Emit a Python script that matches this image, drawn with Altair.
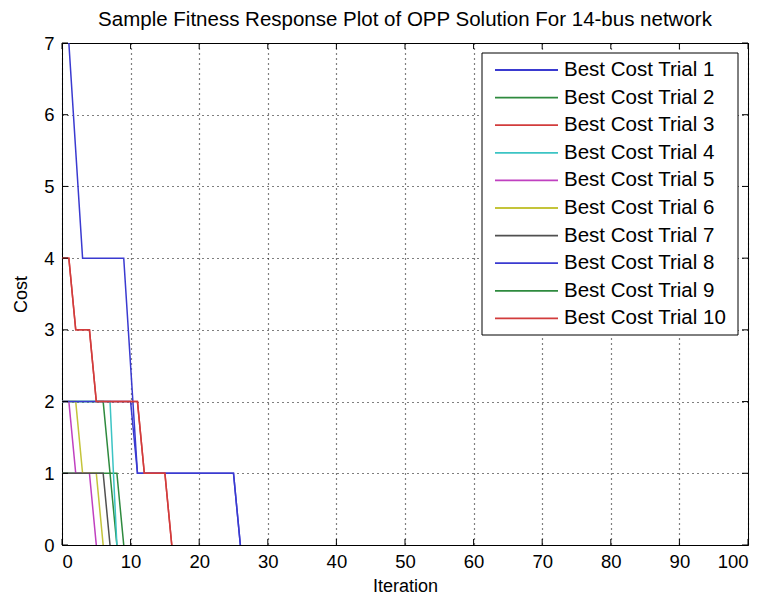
import altair as alt
import pandas as pd

# ---- data ----
trials = [f"Best Cost Trial {i}" for i in range(1, 11)]
colors = ["#3a3ad0", "#2e8a3e", "#d23c3c", "#3cc4c4", "#c040c0",
          "#c4c43a", "#505050", "#3a3ad0", "#2e8a3e", "#d23c3c"]

t1_iter = [1, 3, 9, 11, 25, 26]
t1_cost = [7, 4, 4, 1, 1, 0]
t2_iter = [0, 6, 7, 8, 9]
t2_cost = [2, 2, 1, 1, 0]
t3_iter = [0, 1, 2, 4, 5, 11, 12, 15, 16]
t3_cost = [4, 4, 3, 3, 2, 2, 1, 1, 0]
t4_iter = [0, 7, 8]
t4_cost = [2, 2, 0]
t5_iter = [0, 1, 2, 4, 5]
t5_cost = [2, 2, 1, 1, 0]
t6_iter = [0, 2, 3, 5, 6]
t6_cost = [2, 2, 1, 1, 0]
t7_iter = [0, 6, 7]
t7_cost = [1, 1, 0]
t8_iter = [0, 10, 11, 25, 26]
t8_cost = [2, 2, 1, 1, 0]
t9_iter = [0, 7, 8]
t9_cost = [1, 1, 0]
t10_iter = [0, 1, 2, 4, 5, 11, 12, 15, 16]
t10_cost = [4, 4, 3, 3, 2, 2, 1, 1, 0]

series = [(t1_iter, t1_cost), (t2_iter, t2_cost), (t3_iter, t3_cost),
          (t4_iter, t4_cost), (t5_iter, t5_cost), (t6_iter, t6_cost),
          (t7_iter, t7_cost), (t8_iter, t8_cost), (t9_iter, t9_cost),
          (t10_iter, t10_cost)]

x_ticks = [0, 10, 20, 30, 40, 50, 60, 70, 80, 90, 100]
y_ticks = [0, 1, 2, 3, 4, 5, 6, 7]

rows = []
for name, (xs, ys) in zip(trials, series):
    for x, y in zip(xs, ys):
        rows.append({"trial": name, "iter": x, "cost": y})
df = pd.DataFrame(rows)

W, H = 686, 502
XMAX, YMAX = 100, 7
FONT = "Liberation Sans"

xscale = alt.Scale(domain=[0, XMAX], nice=False, zero=False)
yscale = alt.Scale(domain=[0, YMAX], nice=False, zero=False)
cscale = alt.Scale(domain=trials, range=colors)

xaxis = alt.Axis(values=x_ticks, format="d", grid=True, gridDash=[1, 4], gridColor="black",
                 gridOpacity=1, gridWidth=1.2, domain=False, ticks=False,
                 labelFontSize=18.5, labelFont=FONT, labelColor="black",
                 labelPadding=7, title="Iteration", titleFontSize=18,
                 titleFont=FONT, titleFontWeight="normal", titleColor="black",
                 titlePadding=7)
yaxis = alt.Axis(values=y_ticks, format="d", grid=True, gridDash=[1, 4], gridColor="black",
                 gridOpacity=1, gridWidth=1.2, domain=False, ticks=False,
                 labelFontSize=18.5, labelFont=FONT, labelColor="black",
                 labelPadding=8, title="Cost", titleFontSize=18,
                 titleFont=FONT, titleFontWeight="normal", titleColor="black",
                 titlePadding=13)

base = alt.Chart(df).encode(
    x=alt.X("iter:Q", scale=xscale, axis=xaxis),
    y=alt.Y("cost:Q", scale=yscale, axis=yaxis),
    color=alt.Color("trial:N", scale=cscale, legend=None),
)

draw_order = [0, 1, 8, 3, 4, 5, 6, 7, 2, 9]
line_layers = [
    base.transform_filter(alt.datum.trial == trials[i]).mark_line(strokeWidth=1.5, clip=True)
    for i in draw_order
]

# inner ticks on all four sides (MATLAB style box)
tx = pd.DataFrame({"t": x_ticks})
ty = pd.DataFrame({"t": y_ticks})
tlen_y = 6 * YMAX / H
tlen_x = 6 * XMAX / W
tick_style = dict(color="black", strokeWidth=1)
ticks_bottom = alt.Chart(tx).transform_calculate(a="0", b=str(tlen_y)).mark_rule(**tick_style).encode(
    x=alt.X("t:Q", scale=xscale), y=alt.Y("a:Q", scale=yscale), y2="b:Q")
ticks_top = alt.Chart(tx).transform_calculate(a=str(YMAX), b=str(YMAX - tlen_y)).mark_rule(**tick_style).encode(
    x=alt.X("t:Q", scale=xscale), y=alt.Y("a:Q", scale=yscale), y2="b:Q")
ticks_left = alt.Chart(ty).transform_calculate(a="0", b=str(tlen_x)).mark_rule(**tick_style).encode(
    y=alt.Y("t:Q", scale=yscale), x=alt.X("a:Q", scale=xscale), x2="b:Q")
ticks_right = alt.Chart(ty).transform_calculate(a=str(XMAX), b=str(XMAX - tlen_x)).mark_rule(**tick_style).encode(
    y=alt.Y("t:Q", scale=yscale), x=alt.X("a:Q", scale=xscale), x2="b:Q")

# legend drawn inside the plot (top-right box)
leg = pd.DataFrame({"trial": trials, "idx": list(range(len(trials)))})
row0, rowstep = 27.0, 27.6
leg_box = alt.Chart(pd.DataFrame({"k": [0]})).mark_rect(
    fill="white", stroke="black", strokeWidth=1).encode(
    x=alt.value(420), x2=alt.value(676), y=alt.value(10), y2=alt.value(292))
leg_base = alt.Chart(leg).transform_calculate(
    ly=f"{YMAX} - ({row0} + datum.idx * {rowstep}) * {YMAX} / {H}")
leg_lines = leg_base.mark_rule(strokeWidth=1.8).encode(
    x=alt.value(433), x2=alt.value(496),
    y=alt.Y("ly:Q", scale=yscale),
    color=alt.Color("trial:N", scale=cscale, legend=None))
leg_text = leg_base.mark_text(align="left", baseline="middle", fontSize=20.5,
                              font=FONT, color="black").encode(
    x=alt.value(502), y=alt.Y("ly:Q", scale=yscale), text="trial:N")

chart = alt.layer(
    *line_layers, ticks_bottom, ticks_top, ticks_left, ticks_right,
    leg_box, leg_lines, leg_text
).properties(
    width=W, height=H,
    title=alt.TitleParams("Sample Fitness Response Plot of OPP Solution For 14-bus network",
                          fontSize=20.5, font=FONT, fontWeight="normal", color="black",
                          anchor="middle", offset=4),
    autosize=alt.AutoSizeParams(type="none"),
    padding={"left": 54, "top": 35, "right": 5, "bottom": 52},
).configure_view(stroke="black", strokeWidth=1)

chart.save("out.html", embed_options={"renderer": "svg", "actions": False})
